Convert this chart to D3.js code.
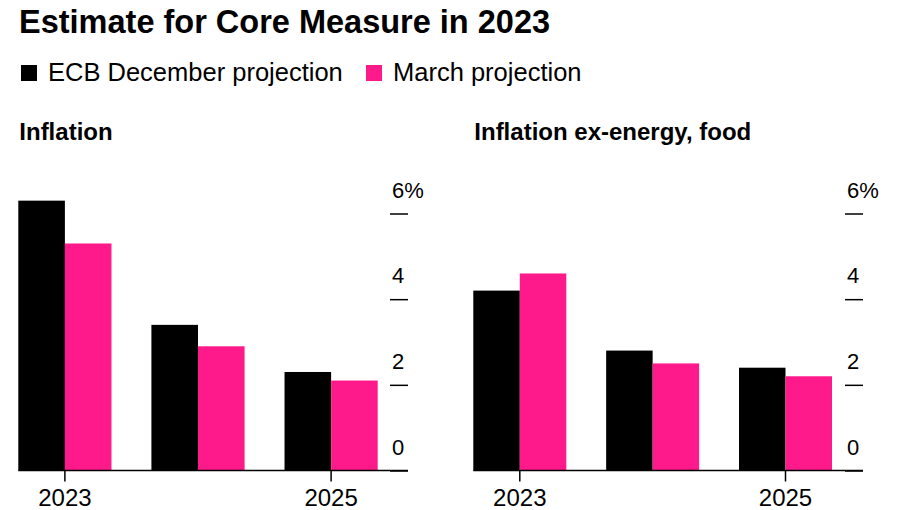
<!DOCTYPE html>
<html>
<head>
<meta charset="utf-8">
<script src="https://cdn.jsdelivr.net/npm/d3@7"></script>
<style>
  body { margin: 0; background: #fff; }
  text { font-family: "Liberation Sans", Arial, Helvetica, sans-serif; fill: #000; }
</style>
</head>
<body>
<div id="chart"></div>
<script>
// data
var years = ["2023", "2024", "2025"];
var seriesNames = ["ECB December projection", "March projection"];
var inflationDec = [6.3, 3.4, 2.3];
var inflationMar = [5.3, 2.9, 2.1];
var coreDec = [4.2, 2.8, 2.4];
var coreMar = [4.6, 2.5, 2.2];
var yTicks = [0, 2, 4, 6];
var xTickLabels = ["2023", "2025"];
var panelTitles = ["Inflation", "Inflation ex-energy, food"];

var colors = ["#000000", "#ff1a8c"];

var svgWidth = 900;
var svgHeight = 510;

var svg = d3.select("#chart")
  .append("svg")
  .attr("width", svgWidth)
  .attr("height", svgHeight);

// title
svg.append("text")
  .attr("x", 19)
  .attr("y", 33)
  .attr("font-size", "32.5px")
  .attr("font-weight", "bold")
  .text("Estimate for Core Measure in 2023");

// legend
var legendX = [21, 366];
var legend = svg.selectAll(".legend")
  .data(seriesNames)
  .enter()
  .append("g")
  .attr("class", "legend")
  .attr("transform", (d, i) => `translate(${legendX[i]}, 65)`);

legend.append("rect")
  .attr("width", 16)
  .attr("height", 16)
  .attr("fill", (d, i) => colors[i]);

legend.append("text")
  .attr("x", 27)
  .attr("y", 16)
  .attr("font-size", "25.5px")
  .text(d => d);

// panels
var panels = [
  { title: panelTitles[0], values: [inflationDec, inflationMar], left: 18.3, right: 377.7, axisEnd: 408 },
  { title: panelTitles[1], values: [coreDec, coreMar], left: 473.3, right: 832, axisEnd: 863 }
];

var yScale = d3.scaleLinear()
  .domain([0, 6])
  .range([470.5, 213.5]);

panels.forEach(function(p) {
  var g = svg.append("g");

  g.append("text")
    .attr("x", p.left + 1)
    .attr("y", 140)
    .attr("font-size", "24px")
    .attr("font-weight", "bold")
    .text(p.title);

  var x0 = d3.scaleBand()
    .domain(years)
    .range([p.left, p.right])
    .paddingInner(0.3)
    .paddingOuter(0);

  var x1 = d3.scaleBand()
    .domain(d3.range(seriesNames.length))
    .range([0, x0.bandwidth()]);

  var rows = years.map((y, i) => ({ year: y, vals: p.values.map(s => s[i]) }));

  var groups = g.selectAll(".grp")
    .data(rows)
    .enter()
    .append("g")
    .attr("transform", d => `translate(${x0(d.year)}, 0)`);

  groups.selectAll("rect")
    .data(d => d.vals)
    .enter()
    .append("rect")
    .attr("x", (d, i) => x1(i))
    .attr("width", x1.bandwidth())
    .attr("y", d => yScale(d))
    .attr("height", d => yScale(0) - yScale(d))
    .attr("fill", (d, i) => colors[i]);

  // y axis on the right: short dashes with labels above
  var yAxis = d3.axisRight(yScale)
    .tickValues(yTicks)
    .tickSize(18)
    .tickFormat(d => d === 6 ? "6%" : d);

  var yg = g.append("g")
    .attr("transform", `translate(${p.axisEnd - 18}, 0)`)
    .call(yAxis);
  yg.select(".domain").remove();
  yg.selectAll("line").attr("stroke", "#000").attr("stroke-width", 1.5);
  yg.selectAll("text")
    .attr("x", 2)
    .attr("dy", "-0.75em")
    .attr("text-anchor", "start")
    .attr("font-size", "22px")
    .attr("font-family", "Liberation Sans, Arial, sans-serif")
    .attr("fill", "#000");

  // baseline
  g.append("line")
    .attr("x1", p.left)
    .attr("x2", p.axisEnd)
    .attr("y1", yScale(0))
    .attr("y2", yScale(0))
    .attr("stroke", "#000")
    .attr("stroke-width", 1.5);

  // x ticks at 2023 and 2025
  var xt = g.selectAll(".xtick")
    .data(xTickLabels)
    .enter()
    .append("g")
    .attr("transform", d => `translate(${x0(d) + x0.bandwidth() / 2}, ${yScale(0)})`);

  xt.append("line")
    .attr("y1", 0)
    .attr("y2", 11)
    .attr("stroke", "#000")
    .attr("stroke-width", 1.5);

  xt.append("text")
    .attr("y", 35)
    .attr("text-anchor", "middle")
    .attr("font-size", "24px")
    .text(d => d);
});
</script>
</body>
</html>
